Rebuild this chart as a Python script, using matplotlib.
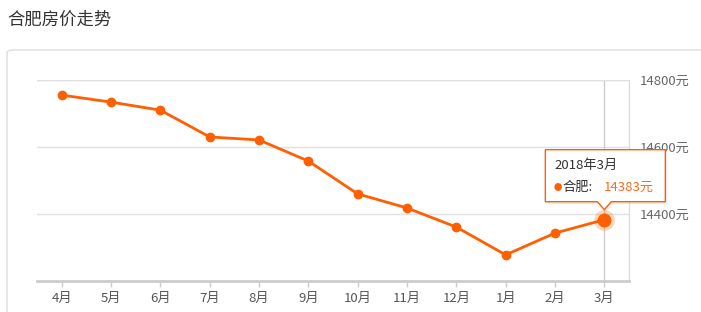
import matplotlib
matplotlib.use('Agg')
import matplotlib.pyplot as plt
from matplotlib.patches import Polygon, FancyBboxPatch

plt.rcParams['font.family'] = ['Noto Sans CJK SC', 'DejaVu Sans']

months = ['4月', '5月', '6月', '7月', '8月', '9月', '10月', '11月', '12月', '1月', '2月', '3月']
prices = [14755, 14734, 14710, 14630, 14621, 14558, 14460, 14418, 14361, 14278, 14343, 14383]
yticks = [14400, 14600, 14800]
ytick_labels = ['14400元', '14600元', '14800元']
tip_title = '2018年3月'
tip_city = '合肥:'
tip_value = '14383元'

orange = '#ff5f00'
W, H = 701, 312
fig = plt.figure(figsize=(W / 100, H / 100), dpi=100)

fig.text(7 / W, 1 - 20 / H, '合肥房价走势', fontsize=12.5, color='#333333', va='center', ha='left')

# card border
card = FancyBboxPatch((7 / W, -0.1), 0.999 - 7 / W + 0.05, (H - 50) / H + 0.1,
                      boxstyle='round,pad=0,rounding_size=0.01', transform=fig.transFigure,
                      fc='white', ec='#dddddd', lw=1, zorder=-1)
fig.patches.append(card)

ax = fig.add_axes([37 / W, (H - 281) / H, (629 - 37) / W, (281 - 80) / H])
ax.set_zorder(1)
ax.patch.set_alpha(0)
x = list(range(len(months)))
ax.set_xlim(-0.5, len(months) - 0.5)
ax.set_ylim(14200, 14800)

for s in ['left', 'top']:
    ax.spines[s].set_visible(False)
ax.spines['bottom'].set_color('#cccccc')
ax.spines['bottom'].set_linewidth(2)
ax.spines['right'].set_color('#dddddd')
ax.spines['right'].set_linewidth(1)

ax.set_yticks(yticks)
ax.yaxis.tick_right()
ax.set_yticklabels(ytick_labels)
ax.tick_params(axis='y', length=0, pad=8, labelsize=9.5, labelcolor='#666666')
ax.set_xticks(x)
ax.set_xticklabels(months)
ax.tick_params(axis='x', length=4, width=1, color='#cccccc', pad=4, labelsize=9.5, labelcolor='#555555')
ax.grid(axis='y', color='#e0e0e0', lw=1)
ax.axhline(14800, color='#e0e0e0', lw=1)
ax.set_axisbelow(True)

# hover cursor line
ax.axvline(x[-1], color='#cccccc', lw=1, zorder=1)

ax.plot(x, prices, color=orange, lw=2, marker='o', ms=6, zorder=3)
ax.plot(x[-1], prices[-1], 'o', ms=15, color=orange, alpha=0.25, mec='none', zorder=4)
ax.plot(x[-1], prices[-1], 'o', ms=9, color=orange, zorder=5)

# tooltip anchored to last point, in display pixels
fig.canvas.draw()
px, py = ax.transData.transform((x[-1], prices[-1]))
bl, br, bb, bt = px - 59, px + 61, py + 18, py + 70
aw = 7
pts = [(bl, bb), (px - aw, bb), (px, bb - 8), (px + aw, bb), (br, bb), (br, bt), (bl, bt)]
shadow = Polygon([(a + 2, b - 2) for a, b in pts], closed=True, transform=None,
                 fc='#000000', alpha=0.08, ec='none', zorder=6)
fig.patches.append(shadow)
tip = Polygon(pts, closed=True, transform=None, fc='white', ec=orange, lw=1, zorder=7)
fig.patches.append(tip)

def fxy(a, b):
    return a / W, b / H

fig.text(*fxy(bl + 9, bt - 16), tip_title, fontsize=9.5, color='#333333', va='center', ha='left', zorder=8)
fig.text(*fxy(bl + 8, bt - 38), '●', fontsize=6, color=orange, va='center', ha='left', zorder=8)
fig.text(*fxy(bl + 17, bt - 38), tip_city, fontsize=9.5, color='#333333', va='center', ha='left', zorder=8)
fig.text(*fxy(bl + 58, bt - 38), tip_value, fontsize=9.5, color='#ff6a1a', va='center', ha='left', zorder=8)

fig.savefig('out.png', dpi=100)
